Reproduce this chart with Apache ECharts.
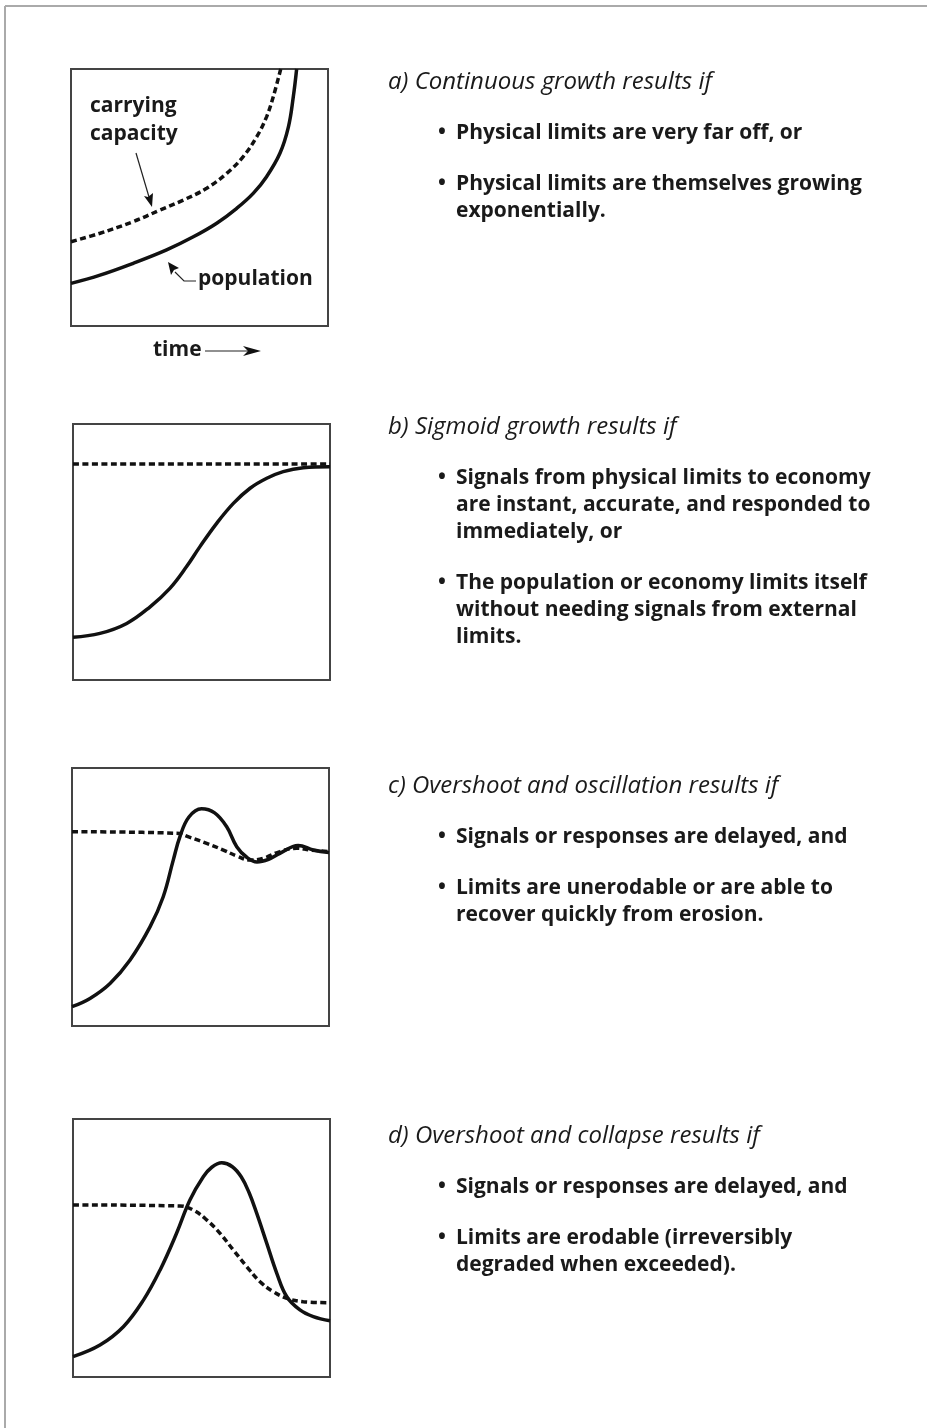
<!DOCTYPE html>
<html>
<head>
<meta charset="utf-8">
<title>Growth modes</title>
<script src="https://cdn.jsdelivr.net/npm/echarts@6/dist/echarts.min.js"></script>
<style>
  html, body { margin: 0; padding: 0; background: #fff; }
  #chart { width: 927px; height: 1428px; }
</style>
</head>
<body>
<div id="chart"></div>
<script>
// curves, x = time (0-100), y = level (0-100)
const growthPopulation = [[0, 16.6], [11.3, 19.8], [24.2, 24.4], [37.2, 29.6], [47.6, 34.7], [56.7, 40], [64.5, 45.8], [70.9, 51.6], [76.1, 58.1], [81.3, 67.2], [84.6, 77.5], [86.5, 89.2], [87.8, 100]]
const growthCapacity = [[0, 32.8], [11.3, 36.1], [24.2, 40.6], [34.6, 45.1], [43.7, 49], [52.8, 53.6], [60.6, 59.4], [67, 65.9], [72.3, 73.7], [76.1, 81.4], [78.7, 89.2], [81.6, 100]]

const sigmoidPopulation = [[0, 16.7], [10.5, 18.2], [20.9, 22.1], [30, 28.6], [37.7, 35.8], [44.2, 44.3], [49.4, 52.1], [55.9, 61.2], [62.4, 69], [68.9, 74.9], [75.4, 78.8], [81.8, 81.4], [89.6, 82.9], [100, 83.3]]
const sigmoidCapacity = [[0, 84.4], [100, 84.4]]

const oscPopulation = [[0, 7.5], [7, 10.7], [14.8, 16.5], [22.6, 25.6], [30.4, 38.5], [35.5, 50.1], [39.4, 64.3], [42, 73.4], [45.5, 81], [50.4, 84.2], [55.5, 82.6], [60.2, 77.2], [64.1, 69.5], [68, 65.4], [72, 63.6], [76.5, 64.6], [80.9, 66.9], [88, 70], [93.9, 68.2], [100, 67.2]]
const oscCapacity = [[0, 75.3], [40.7, 74.7], [45.9, 73.1], [52.4, 70.8], [58.9, 68.2], [64.1, 65.9], [69.3, 64.3], [74.4, 65], [80.9, 67.6], [87.4, 68.9], [92.6, 68.2], [100, 67.6]]

const collapsePopulation = [[0, 7.9], [10.5, 12.4], [19.6, 19.5], [27.4, 29.8], [33.9, 41.5], [40.3, 55.7], [45.5, 68.6], [50.7, 77.6], [54, 81.3], [57.9, 83], [62, 81.5], [65.5, 77.5], [68.5, 71.5], [71.5, 63.4], [75.4, 51.8], [79.3, 40.2], [83.2, 31.1], [88.3, 26], [93.5, 23.4], [100, 21.8]]
const collapseCapacity = [[0, 66.7], [41.6, 66.3], [46.8, 64.7], [52, 60.9], [57.2, 55.7], [62.4, 49.2], [67.6, 42.8], [72.8, 36.9], [77.9, 33.1], [83.2, 30.5], [89.6, 29.2], [100, 28.8]]

const panelTitles = [
  'a) Continuous growth results if',
  'b) Sigmoid growth results if',
  'c) Overshoot and oscillation results if',
  'd) Overshoot and collapse results if'
]
const panelBullets = [
  [['Physical limits are very far off, or'], ['Physical limits are themselves growing', 'exponentially.']],
  [['Signals from physical limits to economy', 'are instant, accurate, and responded to', 'immediately, or'], ['The population or economy limits itself', 'without needing signals from external', 'limits.']],
  [['Signals or responses are delayed, and'], ['Limits are unerodable or are able to', 'recover quickly from erosion.']],
  [['Signals or responses are delayed, and'], ['Limits are erodable (irreversibly', 'degraded when exceeded).']]
]

const chart = echarts.init(document.getElementById('chart'))

// box of each small plot
const boxes = [
  {left: 71, top: 69, width: 257, height: 257},
  {left: 73, top: 424, width: 257, height: 256},
  {left: 72, top: 768, width: 257, height: 258},
  {left: 73, top: 1119, width: 257, height: 258}
]
const titleY = [82, 427, 786, 1136]
const lineGap = 27
const blockGap = 51

const FONT = '"Open Sans", "Noto Sans", sans-serif'
const INK = '#1a1a1a'

const grids = boxes.map(b => ({
  left: b.left, top: b.top, width: b.width, height: b.height,
  show: true, borderColor: '#444', borderWidth: 2, backgroundColor: 'transparent'
}))
const xAxes = boxes.map((b, i) => ({type: 'value', gridIndex: i, min: 0, max: 100, show: false}))
const yAxes = boxes.map((b, i) => ({type: 'value', gridIndex: i, min: 0, max: 100, show: false}))

function curve (data, idx, dashed) {
  return {
    type: 'line',
    xAxisIndex: idx,
    yAxisIndex: idx,
    data: data,
    smooth: 0.4,
    symbol: 'none',
    silent: true,
    clip: true,
    lineStyle: {
      color: '#111',
      width: 3.5,
      type: dashed ? [6, 3.5] : 'solid'
    },
    z: dashed ? 2 : 3
  }
}

const series = [
  curve(growthCapacity, 0, true), curve(growthPopulation, 0, false),
  curve(sigmoidCapacity, 1, true), curve(sigmoidPopulation, 1, false),
  curve(oscCapacity, 2, true), curve(oscPopulation, 2, false),
  curve(collapseCapacity, 3, true), curve(collapsePopulation, 3, false)
]

function txt (text, x, y, font) {
  return {
    type: 'text', x: x, y: y, silent: true,
    style: {text: text, font: font, fill: INK, textVerticalAlign: 'middle', verticalAlign: 'middle'}
  }
}

const graphics = []
// outer frame (top and left edges only)
graphics.push({type: 'line', silent: true, shape: {x1: 5, y1: 6, x2: 927, y2: 6}, style: {stroke: '#aaa', lineWidth: 2}})
graphics.push({type: 'line', silent: true, shape: {x1: 5, y1: 6, x2: 5, y2: 1428}, style: {stroke: '#aaa', lineWidth: 2}})

panelTitles.forEach((t, i) => {
  graphics.push(txt(t, 388, titleY[i], 'italic 24px ' + FONT))
  let y = titleY[i] + blockGap
  panelBullets[i].forEach(lines => {
    graphics.push(txt('\u2022', 438, y, 'bold 21px ' + FONT))
    lines.forEach((l, k) => {
      graphics.push(txt(l, 456, y + k * lineGap, 'bold 21px ' + FONT))
    })
    y += (lines.length - 1) * lineGap + blockGap
  })
})

// labels inside panel a
const labelFont = 'bold 21px ' + FONT
graphics.push(txt('carrying', 90, 106, labelFont))
graphics.push(txt('capacity', 90, 134, labelFont))
graphics.push(txt('population', 198, 279, labelFont))
graphics.push(txt('time', 153, 350, labelFont))

// arrows
graphics.push({type: 'line', silent: true, shape: {x1: 136, y1: 153, x2: 149, y2: 197}, style: {stroke: '#222', lineWidth: 1.2}})
graphics.push({type: 'polygon', silent: true, shape: {points: [[152, 207], [153, 193], [148, 197], [144, 196]]}, style: {fill: '#111'}})
graphics.push({type: 'polyline', silent: true, shape: {points: [[196, 281], [184, 281], [175, 272]]}, style: {stroke: '#222', lineWidth: 1.2, fill: null}})
graphics.push({type: 'polygon', silent: true, shape: {points: [[168, 262], [179, 268], [174, 270], [171, 275]]}, style: {fill: '#111'}})
graphics.push({type: 'line', silent: true, shape: {x1: 205, y1: 351, x2: 250, y2: 351}, style: {stroke: '#222', lineWidth: 1.2}})
graphics.push({type: 'polygon', silent: true, shape: {points: [[261, 351], [243, 346], [248, 351], [243, 356]]}, style: {fill: '#111'}})

chart.setOption({
  animation: false,
  backgroundColor: '#fff',
  grid: grids,
  xAxis: xAxes,
  yAxis: yAxes,
  series: series,
  graphic: {elements: graphics}
})
</script>
</body>
</html>
